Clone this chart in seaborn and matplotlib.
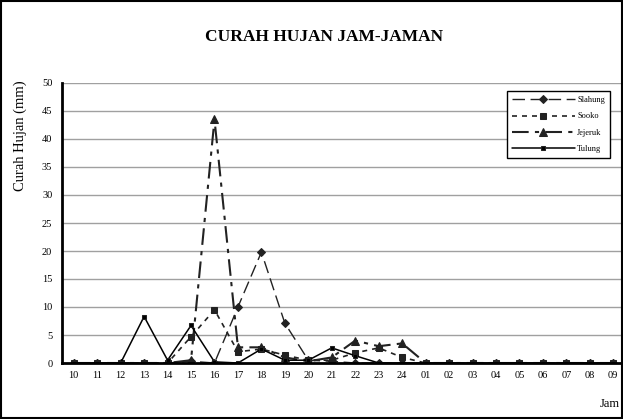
import numpy as np
import pandas as pd
import matplotlib
matplotlib.use("Agg")
import matplotlib.pyplot as plt
import seaborn as sns
from matplotlib.patches import Rectangle
from matplotlib.ticker import MultipleLocator

# data
jam = ["10", "11", "12", "13", "14", "15", "16", "17", "18", "19", "20", "21",
       "22", "23", "24", "01", "02", "03", "04", "05", "06", "07", "08", "09"]
slahung = [0, 0, 0, 0, 0, 0.3, 0, 10.0, 19.8, 7.1, 0.5, 0.3,
           0, 0, 0, 0, 0, 0, 0, 0, 0, 0, 0, 0]
sooko = [0, 0, 0, 0, 0, 4.7, 9.5, 2.0, 2.5, 1.4, 0.5, 0.5,
         1.8, 2.7, 1.0, 0, 0, 0, 0, 0, 0, 0, 0, 0]
jejeruk = [0, 0, 0, 0, 0, 0.5, 43.5, 2.8, 2.8, 1.0, 0.3, 1.0,
           4.0, 3.0, 3.5, 0, 0, 0, 0, 0, 0, 0, 0, 0]
tulung = [0, 0, 0, 8.3, 0.5, 6.7, 0.2, 0, 2.5, 0.5, 0.5, 2.7,
          1.3, 0, 0, 0, 0, 0, 0, 0, 0, 0, 0, 0]

sns.set_style("white")
plt.rcParams["font.family"] = ["Liberation Serif", "DejaVu Serif"]
for k in ["text.color", "axes.labelcolor", "xtick.color", "ytick.color"]:
    plt.rcParams[k] = "black"

fig = plt.figure(figsize=(6.23, 4.19), dpi=100)
ax = fig.add_axes([62 / 623, 56 / 419, 563 / 623, 280 / 419])

x = np.arange(len(jam))
dark = "#222222"

sns.lineplot(x=x, y=slahung, ax=ax, color=dark, lw=1, linestyle=(0, (9, 4)),
             marker="D", markersize=4.5, markeredgecolor=dark, label="Slahung")
sns.lineplot(x=x, y=sooko, ax=ax, color=dark, lw=1.2, linestyle=(0, (3, 3)),
             marker="s", markersize=4.5, markeredgecolor=dark, label="Sooko")
sns.lineplot(x=x, y=jejeruk, ax=ax, color=dark, lw=1.5, linestyle=(0, (8, 3, 2, 3)),
             marker="^", markersize=5.5, markeredgecolor=dark, label="Jejeruk")
sns.lineplot(x=x, y=tulung, ax=ax, color="black", lw=1.1, linestyle="-",
             marker="s", markersize=2.5, markeredgecolor=dark, label="Tulung")

ax.set_xlim(-0.5, len(jam) - 0.5)
ax.set_ylim(0, 50)
ax.yaxis.set_major_locator(MultipleLocator(5))
ax.set_xticks(x)
ax.set_xticklabels(jam)
ax.set_xticks(np.arange(-0.5, len(jam), 1), minor=True)
ax.tick_params(axis="x", which="major", length=0, labelsize=7.5, pad=6)
ax.tick_params(axis="x", which="minor", length=4, width=1, direction="out", color="black")
ax.tick_params(axis="y", length=4, width=1, direction="out", color="black", labelsize=7.5, pad=3)
ax.grid(axis="y", color="#a0a0a0", lw=1)
ax.set_axisbelow(True)
for s in ["top", "right"]:
    ax.spines[s].set_visible(False)
for s in ["left", "bottom"]:
    ax.spines[s].set_color("black")
    ax.spines[s].set_linewidth(2)
ax.set_xlabel("")
ax.set_ylabel("")

leg = ax.legend(loc="upper left", bbox_to_anchor=((503 - 62) / 563, (363 - 87) / 280),
                fontsize=6, handlelength=7.5, frameon=True, fancybox=False,
                framealpha=1, edgecolor="black", borderpad=0.6, labelspacing=1.0,
                handletextpad=0.3)
leg.get_frame().set_linewidth(1)

fig.text(324 / 623, 1 - 37 / 419, "CURAH HUJAN JAM-JAMAN", ha="center", va="center",
         fontsize=12.5, fontweight="bold")
fig.text(20 / 623, 1 - 136 / 419, "Curah Hujan (mm)", ha="center", va="center",
         rotation=90, fontsize=10.5)
fig.text(620 / 623, 1 - 404 / 419, "Jam", ha="right", va="center", fontsize=9)

fig.patches.append(Rectangle((0.002, 0.002), 0.996, 0.996, transform=fig.transFigure,
                             fill=False, edgecolor="black", lw=1.5))

fig.savefig("out.png", dpi=100)
